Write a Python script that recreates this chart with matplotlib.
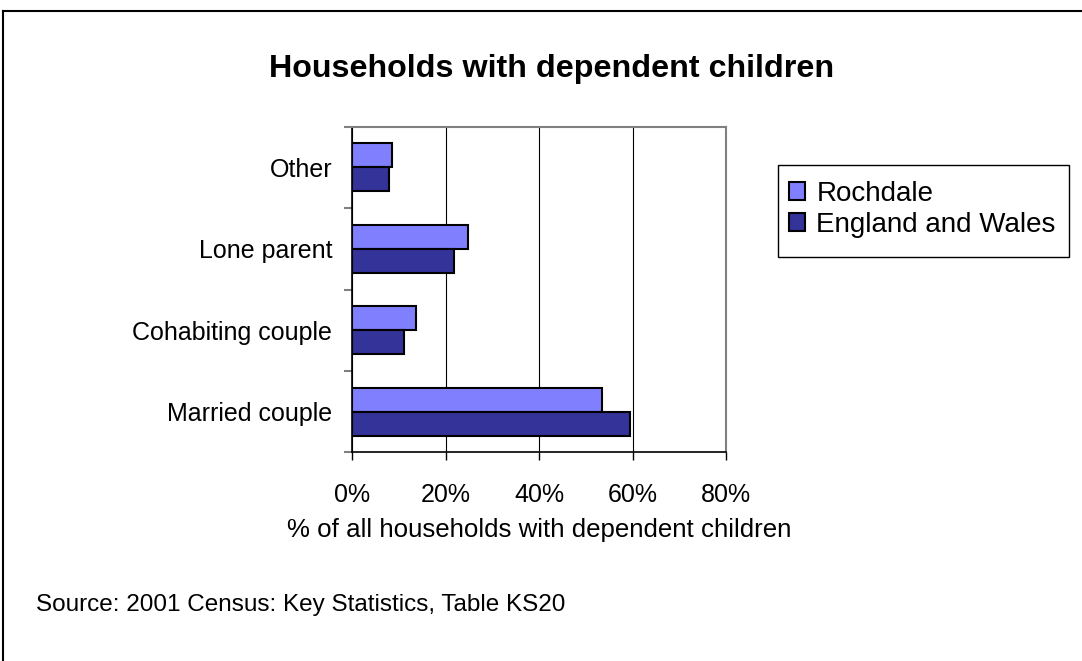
import matplotlib.pyplot as plt
import numpy as np
from matplotlib.lines import Line2D
from matplotlib.patches import Rectangle

plt.rcParams['font.family'] = ['Liberation Sans', 'DejaVu Sans']

categories = ['Married couple', 'Cohabiting couple', 'Lone parent', 'Other']
rochdale = [53.5, 13.7, 24.8, 8.6]
eng_wales = [59.5, 11.1, 21.8, 7.8]
xticks = [0, 20, 40, 60, 80]
xlabels = ['0%', '20%', '40%', '60%', '80%']

W, H = 1082, 661
fig = plt.figure(figsize=(W / 100, H / 100), dpi=100)
ax = fig.add_axes([352.3 / W, 1 - 452.3 / H, (726 - 352.3) / W, (452.3 - 126.7) / H])

y = np.arange(len(categories))
h = 0.295
ax.barh(y + h / 2, rochdale, height=h, color='#8080FF', edgecolor='black', linewidth=1.5,
        label='Rochdale', zorder=3)
ax.barh(y - h / 2, eng_wales, height=h, color='#333399', edgecolor='black', linewidth=1.5,
        label='England and Wales', zorder=3)

ax.set_xlim(0, 80)
ax.set_ylim(-0.5, len(categories) - 0.5)
ax.set_xticks(xticks)
ax.set_xticklabels(xlabels, fontsize=18)
ax.set_yticks(y)
ax.set_yticklabels(categories, fontsize=18)
ax.set_yticks(np.arange(-0.5, len(categories)), minor=True)
ax.tick_params(axis='y', which='major', length=0, pad=14.4)
ax.tick_params(axis='y', which='minor', length=6, color='#808080', width=1.5)
ax.tick_params(axis='x', length=6, width=1, color='black', pad=16)
ax.grid(axis='x', color='black', linewidth=0.8, zorder=0)

for side in ['top', 'right']:
    ax.spines[side].set_color('#808080')
    ax.spines[side].set_linewidth(1.5)
for side in ['left', 'bottom']:
    ax.spines[side].set_color('black')
    ax.spines[side].set_linewidth(1.2)

ax.set_xlabel('% of all households with dependent children', fontsize=18.6, labelpad=8)

fig.text(552 / W, 1 - 69 / H, 'Households with dependent children', fontsize=23.2,
         fontweight='bold', ha='center', va='center')
fig.text(36 / W, 1 - 605 / H, 'Source: 2001 Census: Key Statistics, Table KS20',
         fontsize=17.5, ha='left', va='center')

# legend box drawn separately so its size matches the original
fig.add_artist(Rectangle((778 / W, 1 - 257 / H), (1069 - 778) / W, (257 - 165) / H,
                         transform=fig.transFigure, facecolor='white', edgecolor='black',
                         linewidth=1.0))
leg = fig.legend(loc='upper left', bbox_to_anchor=(773 / W, 1 - 165 / H),
                 fontsize=20, frameon=False,
                 handlelength=0.6, handleheight=0.6, handletextpad=0.4,
                 borderpad=0.56, borderaxespad=0, labelspacing=0.2)

fig.add_artist(Line2D([3 / W, 3 / W], [0, 1 - 10.5 / H], transform=fig.transFigure,
                      color='black', linewidth=1.5))
fig.add_artist(Line2D([3 / W, 1], [1 - 10.5 / H, 1 - 10.5 / H], transform=fig.transFigure,
                      color='black', linewidth=1.5))

fig.savefig('out.png', dpi=100)
